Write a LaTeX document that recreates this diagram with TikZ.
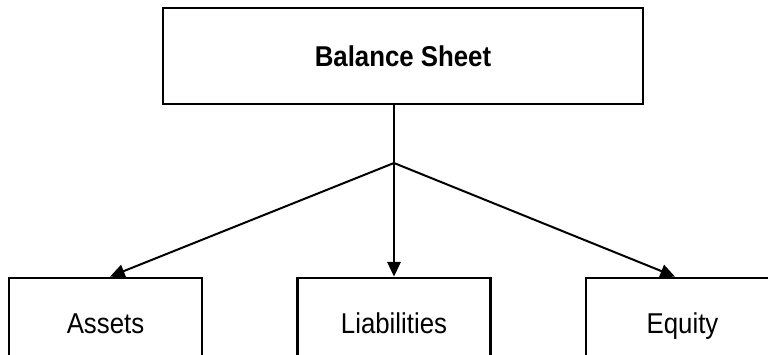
\documentclass[tikz,border=0pt]{standalone}
\usepackage{fontspec}
\setmainfont{Liberation Sans}
\newfontfamily\labelfont[FakeStretch=0.9]{Liberation Sans}
\usetikzlibrary{positioning,arrows.meta}

\begin{document}
\begin{tikzpicture}[
  x=0.75pt, y=-0.75pt,
  box/.style={rectangle, draw, line width=2.1pt, inner sep=0pt, minimum width=144.75pt, minimum height=67.5pt, text height=15.4pt, text depth=0pt, font=\labelfont\fontsize{21.5}{25}\selectfont},
  heading/.style={box, minimum width=360pt, minimum height=72pt, font=\labelfont\fontsize{21.5}{25}\selectfont\bfseries},
  arrow/.style={-{Triangle[length=11pt,width=10pt]}, line width=1.5pt}
]
\useasboundingbox (0,0) rectangle (768,354);
\clip (0,0) rectangle (768,354);

% Balance sheet box
\node[heading] (sheet) at (403,56) {Balance Sheet};

% the three parts
\node[box] (assets) at (105.5,323) {Assets};
\node[box] (liab) at (394,323) {Liabilities};
\node[box] (equity) at (682.5,323) {Equity};

% split point
\coordinate (split) at (394,163);

% connectors
\draw[line width=1.5pt] (sheet.south -| split) -- (split);
\draw[arrow] (split) -- ([xshift=3.4pt]assets.north);
\draw[arrow] (split) -- (liab.north);
\draw[arrow] (split) -- ([xshift=-5.6pt]equity.north);

\end{tikzpicture}
\end{document}
